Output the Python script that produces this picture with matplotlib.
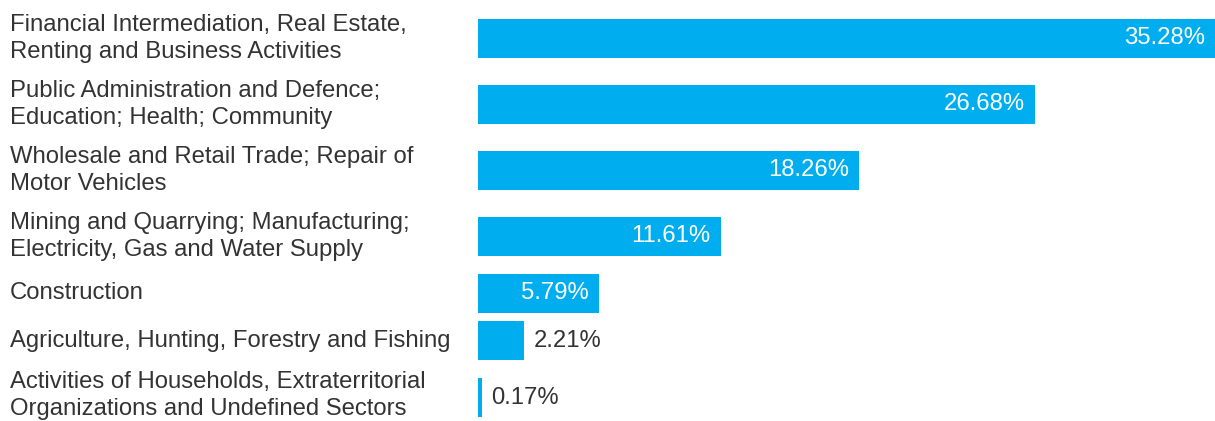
import matplotlib
matplotlib.use("Agg")
import matplotlib.pyplot as plt

categories = [
    "Financial Intermediation, Real Estate,\nRenting and Business Activities",
    "Public Administration and Defence;\nEducation; Health; Community",
    "Wholesale and Retail Trade; Repair of\nMotor Vehicles",
    "Mining and Quarrying; Manufacturing;\nElectricity, Gas and Water Supply",
    "Construction",
    "Agriculture, Hunting, Forestry and Fishing",
    "Activities of Households, Extraterritorial\nOrganizations and Undefined Sectors",
]
values = [35.28, 26.68, 18.26, 11.61, 5.79, 2.21, 0.17]

BAR_COLOR = "#00AEEF"
TEXT_COLOR = "#333333"
W, H = 1215, 421
FS = 17.2

fig = plt.figure(figsize=(W / 100, H / 100), dpi=100)
fig.patch.set_facecolor("white")

# axes in pixel coordinates (y downward)
bar_left = 478
ax = fig.add_axes([bar_left / W, 0, 1 - bar_left / W, 1])
ax.set_xlim(0, max(values))
ax.set_ylim(H, 0)
ax.axis("off")

# row layout derived from label line counts
row_h = {1: 47.5, 2: 66.0}
top = 5.5
centers = []
y = top
for c in categories:
    n = c.count("\n") + 1
    centers.append(y + row_h[n] / 2)
    y += row_h[n]

bar_h = 39
ax.barh(centers, values, height=bar_h, color=BAR_COLOR, left=0)

px_per_unit = (W - bar_left) / max(values)
for i, (cy, v, cat) in enumerate(zip(centers, values, categories)):
    ty = cy if i < len(categories) - 1 else cy - 2
    fig.text(10 / W, 1 - ty / H, cat, ha="left", va="center", fontsize=FS,
             color=TEXT_COLOR, family="Liberation Sans", linespacing=1.32)
    label = f"{v:.2f}%"
    if v * px_per_unit > 100:
        ax.text(v - 10 / px_per_unit, cy, label, ha="right", va="center",
                fontsize=FS, color="white", family="Liberation Sans")
    else:
        ax.text(v + 10 / px_per_unit, cy, label, ha="left", va="center",
                fontsize=FS, color=TEXT_COLOR, family="Liberation Sans")

fig.savefig("out.png", dpi=100, facecolor="white")
